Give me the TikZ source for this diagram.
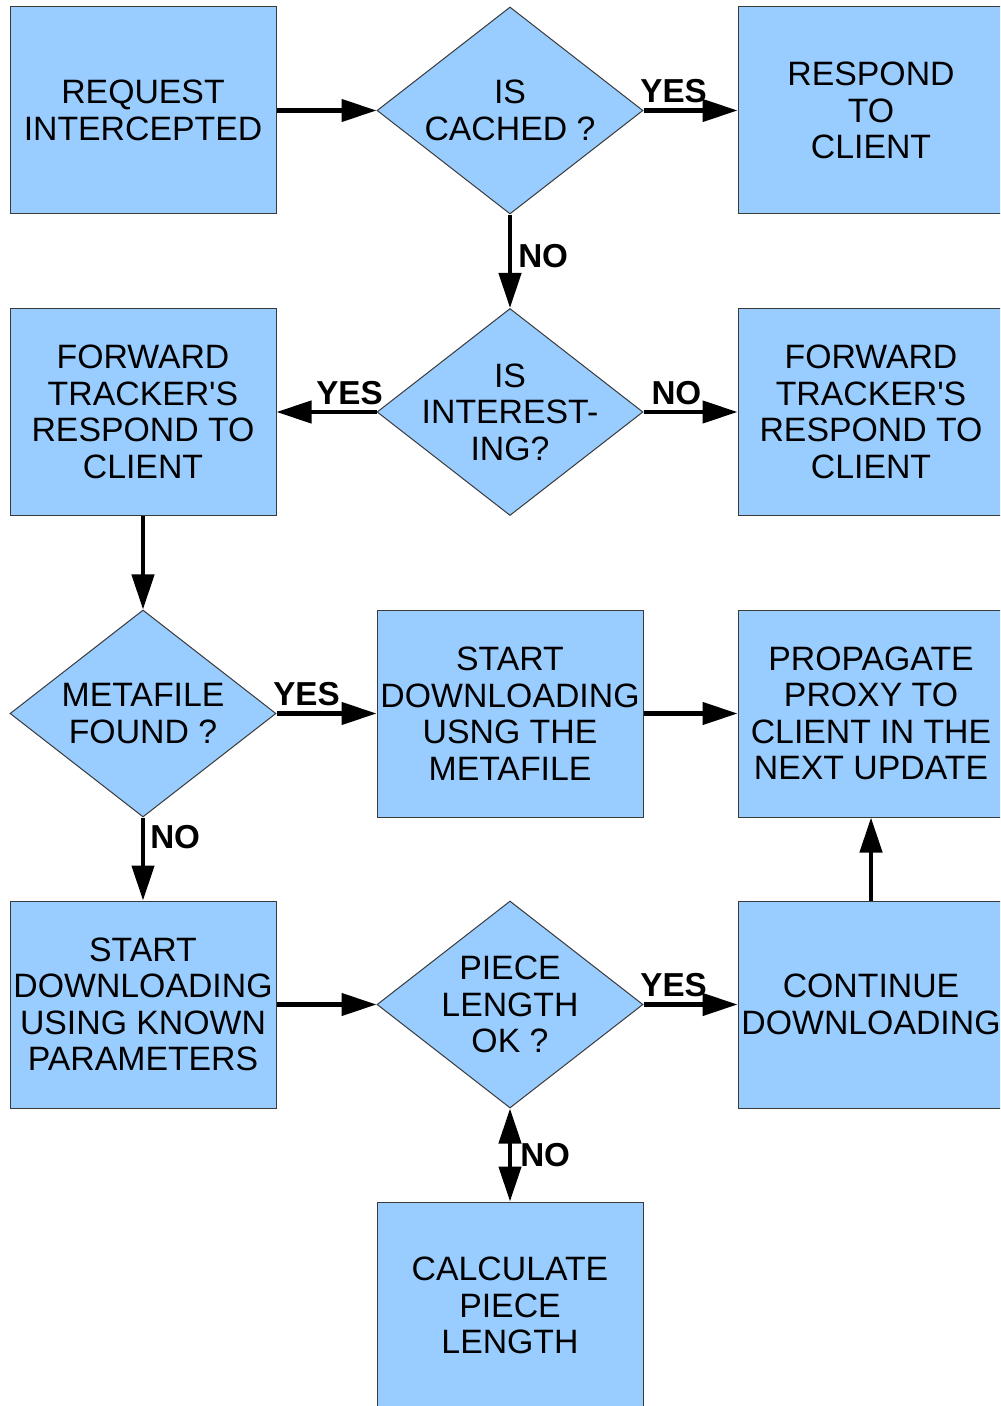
\documentclass[tikz,border=0pt]{standalone}
\usepackage{fontspec}
\setmainfont{Liberation Sans}[Ligatures=TeXOff]
\usetikzlibrary{shapes.geometric,arrows.meta}
\definecolor{boxblue}{HTML}{99CCFF}
\definecolor{edgegray}{HTML}{3A3A3A}
\begin{document}
\begin{tikzpicture}[x=0.5pt,y=-0.5pt,
  box/.style={rectangle, draw=edgegray, line width=0.5pt, fill=boxblue,
    minimum width=133pt, minimum height=103.5pt, inner sep=0pt, align=center,
    font=\fontsize{16.9}{18.25}\selectfont},
  decision/.style={box, diamond, aspect=1.285, inner sep=-6pt},
  flow/.style={-{Triangle[length=17.5pt,width=11pt]}, line width=2.25pt},
  both/.style={{Triangle[length=17.5pt,width=11pt]}-{Triangle[length=17.5pt,width=11pt]}, line width=2.25pt},
  ans/.style={font=\fontsize{16.6}{18}\selectfont\bfseries, inner sep=1pt}
]
\useasboundingbox (0,0) rectangle (1000,1406);
\fill[white] (0,0) rectangle (1000,1406);
\clip (0,0) rectangle (1000,1406);

% first row
\node[box] (req) at (143,110.5) {REQUEST\\INTERCEPTED};
\node[decision] (cached) at (510,110.5) {IS\\CACHED ?};
\node[box] (respond) at (871,110.5) {RESPOND\\TO\\CLIENT};

% second row
\node[box] (fwdL) at (143,412) {FORWARD\\TRACKER'S\\RESPOND TO\\CLIENT};
\node[decision] (interest) at (510,412) {IS\\INTEREST-\\ING?};
\node[box] (fwdR) at (871,412) {FORWARD\\TRACKER'S\\RESPOND TO\\CLIENT};

% third row
\node[decision] (meta) at (143,713.5) {METAFILE\\FOUND ?};
\node[box] (startMeta) at (510,713.5) {START\\DOWNLOADING\\USNG THE\\METAFILE};
\node[box] (propagate) at (871,713.5) {PROPAGATE\\PROXY TO\\CLIENT IN THE\\NEXT UPDATE};

% fourth row
\node[box] (startKnown) at (143,1004.5) {START\\DOWNLOADING\\USING KNOWN\\PARAMETERS};
\node[decision] (piece) at (510,1004.5) {PIECE\\LENGTH\\OK ?};
\node[box] (cont) at (871,1004.5) {CONTINUE\\DOWNLOADING};

% last row
\node[box] (calc) at (510,1305.5) {CALCULATE\\PIECE\\LENGTH};

% connectors
\draw[flow] (req) -- (cached);
\draw[flow] (cached) -- node[ans, pos=0.32, above=1.5pt] {YES} (respond);
\draw[flow] (cached) -- node[ans, pos=0.44, right=2pt] {NO} (interest);
\draw[flow] (interest) -- node[ans, pos=0.27, above=1.5pt] {YES} (fwdL);
\draw[flow] (interest) -- node[ans, pos=0.35, above=1.5pt] {NO} (fwdR);
\draw[flow] (fwdL) -- (meta);
\draw[flow] (meta) -- node[ans, pos=0.3, above=1.5pt] {YES} (startMeta);
\draw[flow] (startMeta) -- (propagate);
\draw[flow] (meta) -- node[ans, pos=0.23, right=1.5pt] {NO} (startKnown);
\draw[flow] (startKnown) -- (piece);
\draw[flow] (piece) -- node[ans, pos=0.32, above=1.5pt] {YES} (cont);
\draw[flow] (cont) -- (propagate);
\draw[both] (piece) -- node[ans, pos=0.5, right=3pt] {NO} (calc);
\end{tikzpicture}
\end{document}
